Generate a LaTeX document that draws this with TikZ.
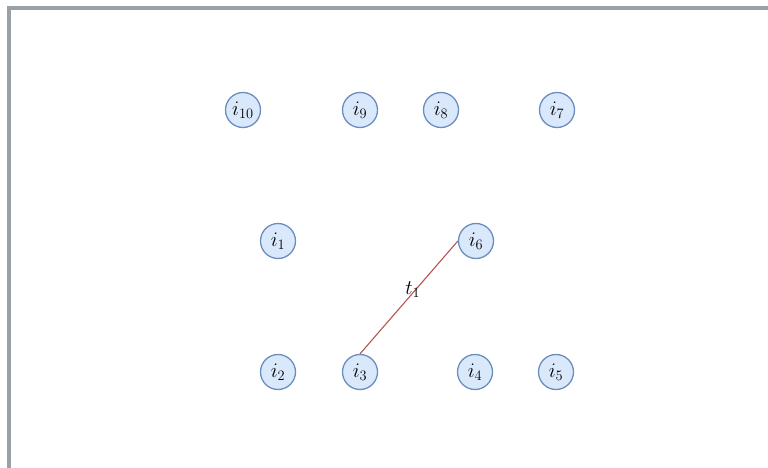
\documentclass[tikz,border=0pt]{standalone}
\begin{document}
\begin{tikzpicture}[x=1pt,y=-1pt,
  vtx/.style={circle,draw=nodeblue,fill=nodefill,line width=1.3pt,minimum size=35pt,inner sep=0pt,font=\fontsize{21}{24}\selectfont},
  edge/.style={draw=edgered,line width=1.1pt},
  lbl/.style={font=\fontsize{21}{24}\selectfont,inner sep=0pt}]
\definecolor{nodeblue}{RGB}{108,142,191}
\definecolor{nodefill}{RGB}{218,232,252}
\definecolor{edgered}{RGB}{184,84,80}
\definecolor{framegray}{RGB}{152,160,168}
\useasboundingbox (0,0) rectangle (768,468);
\fill[white] (0,0) rectangle (768,468);
\fill[framegray] (7,6) rectangle (768,10);
\fill[framegray] (7,6) rectangle (11,468);
\node[vtx] (i10) at (243,110) {$i_{10}$};
\node[vtx] (i9) at (360,110) {$i_9$};
\node[vtx] (i8) at (441,110) {$i_8$};
\node[vtx] (i7) at (557,110) {$i_7$};
\node[vtx] (i1) at (278,241) {$i_1$};
\node[vtx] (i6) at (476,241) {$i_6$};
\node[vtx] (i2) at (278,372) {$i_2$};
\node[vtx] (i3) at (360,372) {$i_3$};
\node[vtx] (i4) at (475,372) {$i_4$};
\node[vtx] (i5) at (556,372) {$i_5$};
\draw[edge] (i3.north) -- node[lbl,pos=0.57,xshift=-3pt] (t1) {$t_1$} (i6.west);
\end{tikzpicture}
\end{document}
